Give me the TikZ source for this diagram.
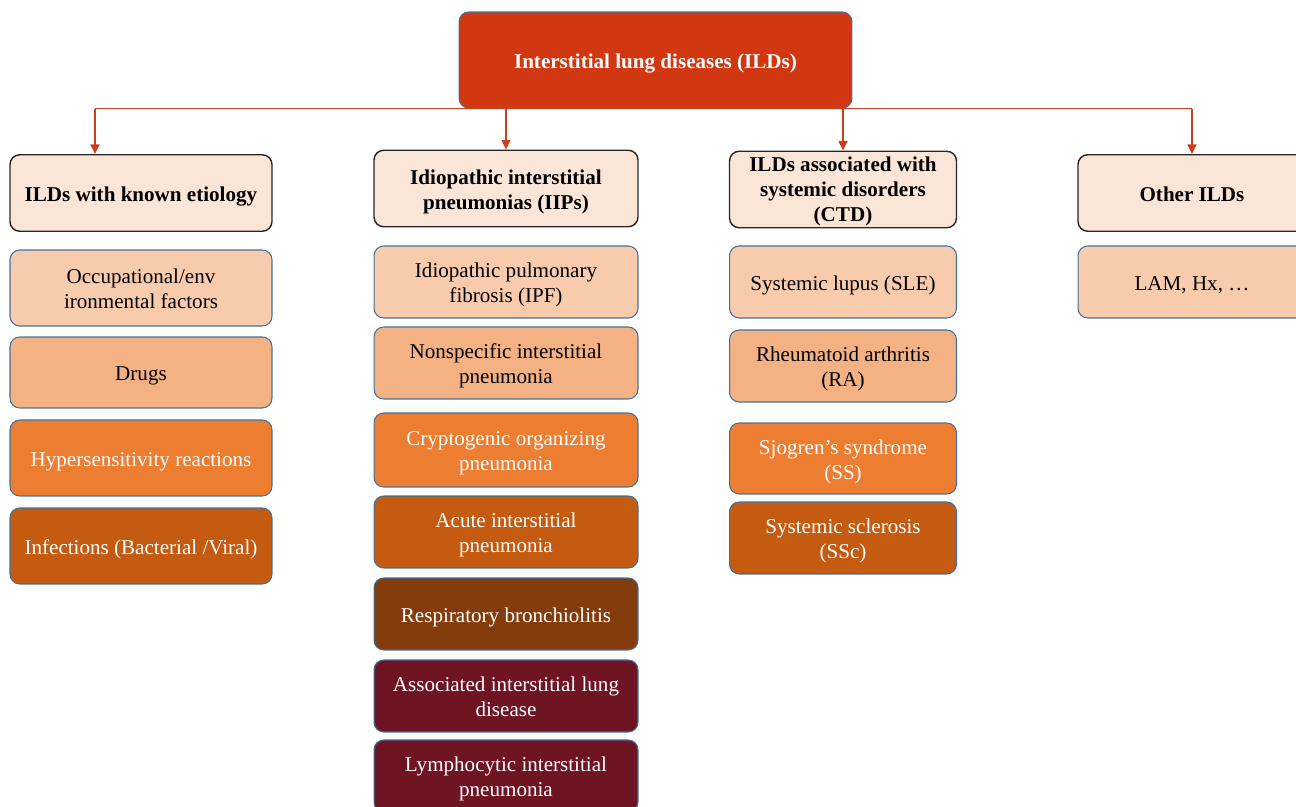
\documentclass[tikz,border=0pt]{standalone}
\usepackage{fontspec}
\setmainfont{Liberation Serif}
\usepackage{xcolor}
\usepackage{tikz}
\usetikzlibrary{arrows.meta}

\definecolor{ildred}{HTML}{D13812}
\definecolor{linkred}{HTML}{C8401E}
\definecolor{pale}{HTML}{FBE5D6}
\definecolor{tone1}{HTML}{F8CBAD}
\definecolor{tone2}{HTML}{F4B183}
\definecolor{tone3}{HTML}{ED7D31}
\definecolor{tone4}{HTML}{C55A11}
\definecolor{tone5}{HTML}{843C0C}
\definecolor{tone6}{HTML}{6E1423}
\definecolor{edgeblue}{HTML}{41719C}

\begin{document}
\begin{tikzpicture}[x=0.02cm,y=-0.02cm,
	box/.style={rounded corners=5.5pt,align=flush center,inner sep=2pt,
		font=\fontsize{12}{14.2}\selectfont,draw=edgeblue,line width=0.6pt,
		execute at begin node={\rule{0pt}{1em}},
		execute at end node={\rule[-0.22em]{0pt}{0pt}}},
	top/.style={box,fill=ildred,text=white,font=\fontsize{12}{14.2}\selectfont\bfseries,
		minimum width=7.86cm,text width=7.5cm,minimum height=1.92cm},
	head/.style={box,draw=black!85,line width=0.8pt,fill=pale,
		font=\fontsize{12}{14.2}\selectfont\bfseries,minimum height=1.53cm},
	w1/.style={minimum width=5.24cm,text width=5cm},
	w2/.style={minimum width=5.28cm,text width=5cm},
	w3/.style={minimum width=4.54cm,text width=4.36cm},
	w4/.style={minimum width=4.56cm,text width=4.36cm},
	t1/.style={box,fill=tone1,minimum height=1.44cm},
	t2/.style={box,fill=tone2,minimum height=1.44cm},
	t3/.style={box,fill=tone3,text=white,minimum height=1.46cm},
	t4/.style={box,fill=tone4,text=white,minimum height=1.46cm},
	t5/.style={box,fill=tone5,text=white,minimum height=1.44cm},
	t6/.style={box,fill=tone6,text=white,minimum height=1.44cm},
	link/.style={linkred,line width=1.1pt},
	arr/.style={link,-{Triangle[width=5pt,length=5.5pt]}}]
	\useasboundingbox (0,0) rectangle (1296,807);
	% root
	\node[top] (ild) at (655.5,60) {Interstitial lung diseases (ILDs)};
	% the four groups
	\node[head,w1] (known) at (141,193) {ILDs with known etiology};
	\node[head,w2] (iip) at (506,188.5) {Idiopathic interstitial\\pneumonias (IIPs)};
	\node[head,w3,text height=11pt,inner ysep=0pt] (ctd) at (843,189.5) {ILDs associated with\\systemic disorders\\(CTD)};
	\node[head,w4] (other) at (1192,193) {Other ILDs};
	% connectors
	\coordinate (k) at ([xshift=-0.92cm]known.north);
	\draw[link] (ild.south -| k) -- (ild.south -| other.north);
	\draw[arr] (ild.south -| k) -- (k);
	\draw[arr] (ild.south -| iip.north) -- (iip.north);
	\draw[arr] (ild.south -| ctd.north) -- (ctd.north);
	\draw[arr] (ild.south -| other.north) -- (other.north);
	% known etiology
	\node[t1,w1,minimum height=1.52cm] (occ) at (141,288) {Occupational/env\\ironmental factors};
	\node[t2,w1,minimum height=1.42cm] (drug) at (141,372.5) {Drugs};
	\node[t3,w1,minimum height=1.52cm] (hyp) at (141,458) {Hypersensitivity reactions};
	\node[t4,w1,minimum height=1.52cm] (inf) at (141,546) {Infections (Bacterial /Viral)};
	% IIPs
	\node[t1,w2] (ipf) at (506,282) {Idiopathic pulmonary\\fibrosis (IPF)};
	\node[t2,w2] (nsip) at (506,363) {Nonspecific interstitial\\pneumonia};
	\node[t3,w2,minimum height=1.48cm] (cop) at (506,450) {Cryptogenic organizing\\pneumonia};
	\node[t4,w2,minimum height=1.44cm] (aip) at (506,532) {Acute interstitial\\pneumonia};
	\node[t5,w2] (rb) at (506,614) {Respiratory bronchiolitis};
	\node[t6,w2] (ailt) at (506,696) {Associated interstitial lung\\disease};
	\node[t6,w2] (lip) at (506,776) {Lymphocytic interstitial\\pneumonia};
	% systemic disorders
	\node[t1,w3] (sle) at (843,282) {Systemic lupus (SLE)};
	\node[t2,w3] (ra) at (843,366) {Rheumatoid arthritis\\(RA)};
	\node[t3,w3,minimum height=1.42cm] (ss) at (843,458.5) {Sjogren’s syndrome\\(SS)};
	\node[t4,w3,minimum height=1.44cm] (ssc) at (843,538) {Systemic sclerosis\\(SSc)};
	% other
	\node[t1,w4] (lam) at (1192,282) {LAM, Hx, …};
\end{tikzpicture}
\end{document}
